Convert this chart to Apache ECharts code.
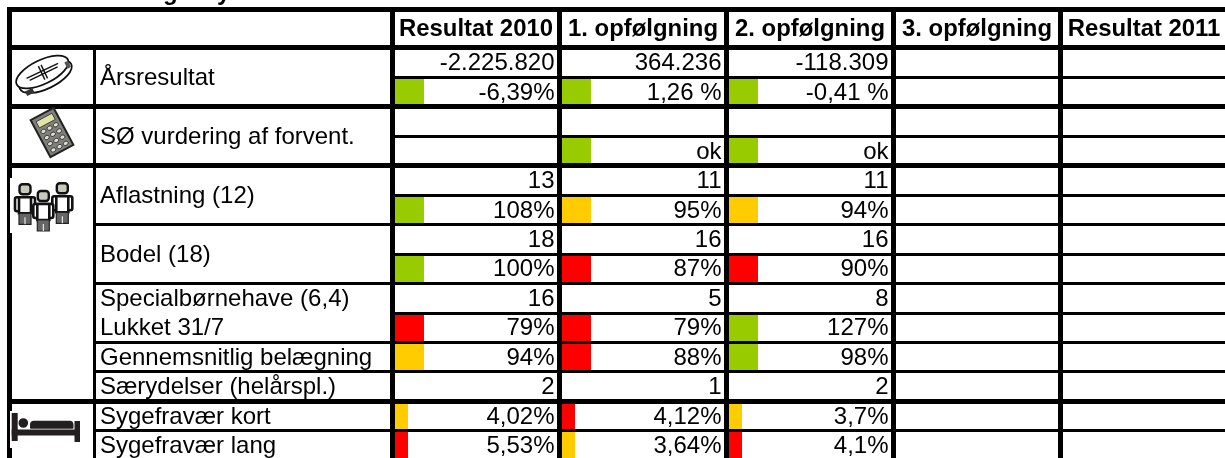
<!DOCTYPE html>
<html>
<head>
<meta charset="utf-8">
<style>
html,body{margin:0;padding:0;background:#fff;overflow:hidden;}
#main{width:1225px;height:458px;}
</style>
<script src="https://cdn.jsdelivr.net/npm/echarts@6/dist/echarts.min.js"></script>
</head>
<body>
<div id="main"></div>
<script>
var columns = ['Resultat 2010','1. opfølgning','2. opfølgning','3. opfølgning','Resultat 2011'];
var rows = ['Årsresultat kr','Årsresultat %','SØ top','SØ ok','Aflastning antal','Aflastning %','Bodel antal','Bodel %',
    'Special antal','Special %','Belægning','Særydelser','Sygefravær kort','Sygefravær lang'];

// labels of the second column, with the number of rows each one spans
var rowLabels = ['Årsresultat','SØ vurdering af forvent.','Aflastning (12)','Bodel (18)','Specialbørnehave (6,4)',
    'Lukket 31/7','Gennemsnitlig belægning','Særydelser (helårspl.)','Sygefravær kort','Sygefravær lang'];
var rowSpans = [2,2,2,2,1,1,1,1,1,1];

var values2010 = ['-2.225.820','-6,39%','','','13','108%','18','100%','16','79%','94%','2','4,02%','5,53%'];
var values1 = ['364.236','1,26 %','','ok','11','95%','16','87%','5','79%','88%','1','4,12%','3,64%'];
var values2 = ['-118.309','-0,41 %','','ok','11','94%','16','90%','8','127%','98%','2','3,7%','4,1%'];
var values3 = ['','','','','','','','','','','','','',''];
var values2011 = ['','','','','','','','','','','','','',''];

// g = green, y = yellow, r = red
var status2010 = ['','g','','','','g','','g','','r','y','','y','r'];
var status1 = ['','g','','g','','y','','r','','r','r','','r','y'];
var status2 = ['','g','','g','','y','','r','','g','g','','y','r'];
var status3 = ['','','','','','','','','','','','','',''];
var status2011 = ['','','','','','','','','','','','','',''];

var allValues = [values2010,values1,values2,values3,values2011];
var allStatus = [status2010,status1,status2,status3,status2011];

var statusColor = {g:'#99cc00',y:'#ffcc00',r:'#ff0000'};
var tableLeft = 9.5, iconRight = 94.5, labelRight = 392.5, pageRight = 1225, pageBottom = 458;
var font = '"Liberation Sans", Arial, sans-serif';

// where each horizontal rule starts: 0 whole table, 1 from the labels, 2 only the value columns
var ruleReach = [0,2,0,2,0,2,1,2,1,2,1,1,0,1];
var ruleStart = [tableLeft,iconRight,labelRight];
var thickRules = [0,2,4,12];
var narrowRows = [12,13];

var cellData = [];
for (var c = 0; c < columns.length; c++) {
    for (var r = 0; r < rows.length; r++) {
        cellData.push([c,r]);
    }
}
var labelData = [];
var startRow = 0;
for (var i = 0; i < rowLabels.length; i++) {
    labelData.push([0,startRow,rowSpans[i],i]);
    startRow += rowSpans[i];
}
var ruleData = rows.map(function(name,idx){ return [0,idx]; });
var columnRuleData = columns.map(function(name,idx){ return [idx,0]; });

function solid(x,y,w,h){
    return {type:'rect',z:5,shape:{x:x,y:y,width:w,height:h},style:{fill:'#000'}};
}
function white(x,y,w,h){
    return {type:'rect',z:6,shape:{x:x,y:y,width:w,height:h},style:{fill:'#fff'}};
}

function coinIcon(){
    var ink = {stroke:'#111',lineWidth:1.4,fill:'none'};
    return {type:'group',x:42.3,y:72,rotation:0.45,z:7,children:[
        {type:'ellipse',z:7,shape:{cx:1,cy:5.5,rx:28.5,ry:12},style:{stroke:'#111',lineWidth:1.8,fill:'#fff'}},
        {type:'ellipse',z:7,shape:{cx:0,cy:0,rx:28.5,ry:12},style:{stroke:'#111',lineWidth:1.8,fill:'#fff'}},
        {type:'line',z:7,shape:{x1:-17,y1:-1,x2:18,y2:-1},style:ink},
        {type:'line',z:7,shape:{x1:-15,y1:2,x2:16,y2:2},style:ink},
        {type:'line',z:7,shape:{x1:-1,y1:-7,x2:-1,y2:8},style:ink},
        {type:'line',z:7,shape:{x1:2,y1:-7,x2:2,y2:8},style:ink},
        {type:'rect',z:7,shape:{x:-24,y:10,width:8,height:5},style:{fill:'#333'}},
        {type:'rect',z:7,shape:{x:24,y:1,width:4,height:7},style:{fill:'#555'}}
    ]};
}

function calculatorIcon(){
    var kids = [
        {type:'rect',z:7,shape:{x:-13,y:-21,width:26,height:42},style:{fill:'#808078',stroke:'#222',lineWidth:2}},
        {type:'rect',z:7,shape:{x:-9,y:-17,width:18,height:7},style:{fill:'#dfe3a6',stroke:'#333',lineWidth:0.8}}
    ];
    for (var a = 0; a < 3; a++) {
        for (var b = 0; b < 4; b++) {
            kids.push({type:'ellipse',z:7,shape:{cx:-7+a*7,cy:-5+b*7,rx:2.6,ry:2},style:{fill:'#ddd',stroke:'#222',lineWidth:0.8}});
        }
    }
    return {type:'group',x:52,y:132.5,rotation:0.49,z:7,children:kids};
}

function person(cx,top){
    var line = {stroke:'#111',lineWidth:2.6,fill:'#fff'};
    return [
        {type:'rect',z:7,shape:{x:cx-5.5,y:top,width:11,height:10,r:3},style:{stroke:'#111',lineWidth:2.4,fill:'#c9c9be'}},
        {type:'rect',z:7,shape:{x:cx-10,y:top+13,width:20,height:14,r:2},style:line},
        {type:'rect',z:7,shape:{x:cx-6,y:top+13,width:12,height:16},style:line},
        {type:'rect',z:7,shape:{x:cx-6,y:top+29,width:12,height:11},style:{fill:'#666',stroke:'#222',lineWidth:1.2}},
        {type:'rect',z:7,shape:{x:cx-0.5,y:top+33,width:1,height:7},style:{fill:'#fff'}}
    ];
}

function bedIcon(){
    var ink = {fill:'#231f20'};
    return {type:'group',z:7,children:[
        {type:'rect',z:7,shape:{x:11.7,y:413,width:6,height:28},style:ink},
        {type:'rect',z:7,shape:{x:74.5,y:421,width:5.5,height:21},style:ink},
        {type:'rect',z:7,shape:{x:11.7,y:429.5,width:68,height:6},style:ink},
        {type:'circle',z:7,shape:{cx:23.3,cy:423,r:4.8},style:ink},
        {type:'rect',z:7,shape:{x:30,y:420.7,width:43.5,height:8,r:[4,4,1,1]},style:ink}
    ]};
}

var chart = echarts.init(document.getElementById('main'));

var option = {
    animation:false,
    backgroundColor:'#fff',
    // the table runs past the page at right and bottom, so no shrinking to fit
    grid:{left:labelRight,top:47.9,width:835,height:412.44,outerBoundsMode:'none',containLabel:false},
    xAxis:{
        type:'category',
        position:'top',
        data:columns,
        axisLine:{show:false},
        axisTick:{show:false},
        splitLine:{show:false},
        axisLabel:{interval:0,margin:6.5,fontSize:23.9,fontWeight:'bold',fontFamily:font,color:'#000'}
    },
    yAxis:{
        type:'category',
        inverse:true,
        data:rows,
        axisLine:{show:false},
        axisTick:{show:false},
        axisLabel:{show:false},
        splitLine:{show:false}
    },
    graphic:[
        solid(7,7,pageRight-7,5),
        solid(7,7,5,pageBottom-7),
        solid(iconRight-1.5,47,3,pageBottom-47),
        solid(labelRight-2.5,7,5,pageBottom-7),
        white(10,178,2,55),
        white(10,411,2,37),
        // title of the sheet is cut off by the top edge, only the descenders show
        {type:'text',z:4,style:{text:'g',x:163,y:5,fill:'#000',fontSize:24,fontWeight:'bold',fontFamily:font,verticalAlign:'bottom'}},
        {type:'text',z:4,style:{text:'y',x:217,y:5,fill:'#000',fontSize:24,fontWeight:'bold',fontFamily:font,verticalAlign:'bottom'}},
        coinIcon(),
        calculatorIcon(),
        {type:'group',z:7,children:person(25,184.3).concat(person(62.3,183.3)).concat(person(43.3,191))},
        bedIcon()
    ],
    series:[
        {
            name:'status',
            type:'custom',
            clip:false,
            z:2,
            data:cellData,
            encode:{x:0,y:1},
            renderItem:function(params,api){
                var col = api.value(0), row = api.value(1);
                var code = allStatus[col][row];
                if (!code) return null;
                var p = api.coord([col,row]), size = api.size([1,1]);
                var w = narrowRows.indexOf(row) >= 0 ? 15.5 : 31.5;
                return {type:'rect',shape:{x:p[0]-size[0]/2,y:p[1]-size[1]/2,width:w,height:size[1]},style:{fill:statusColor[code]}};
            }
        },
        {
            name:'rules',
            type:'custom',
            clip:false,
            z:3,
            data:ruleData,
            encode:{x:0,y:1},
            renderItem:function(params,api){
                var row = api.value(1);
                var p = api.coord([0,row]), size = api.size([1,1]);
                var h = thickRules.indexOf(row) >= 0 ? 5 : 3;
                var y = Math.floor(p[1]-size[1]/2)+0.5;
                var x = ruleStart[ruleReach[row]];
                return {type:'rect',shape:{x:x,y:y-h/2,width:pageRight-x,height:h},style:{fill:'#000'}};
            }
        },
        {
            name:'columnRules',
            type:'custom',
            clip:false,
            z:3,
            data:columnRuleData,
            encode:{x:0,y:1},
            renderItem:function(params,api){
                var col = api.value(0);
                var p = api.coord([col,0]), size = api.size([1,1]);
                var x = p[0]+size[0]/2;
                return {type:'rect',shape:{x:x-2.5,y:7,width:5,height:pageBottom-7},style:{fill:'#000'}};
            }
        },
        {
            name:'values',
            type:'custom',
            clip:false,
            z:4,
            data:cellData,
            encode:{x:0,y:1},
            renderItem:function(params,api){
                var col = api.value(0), row = api.value(1);
                var txt = allValues[col][row];
                if (!txt) return null;
                var p = api.coord([col,row]), size = api.size([1,1]);
                return {type:'text',style:{text:txt,x:p[0]+size[0]/2-5,y:p[1]+1,align:'right',verticalAlign:'middle',
                    fontSize:24,fontFamily:font,fill:'#000'}};
            }
        },
        {
            name:'labels',
            type:'custom',
            clip:false,
            z:4,
            data:labelData,
            encode:{x:0,y:1},
            renderItem:function(params,api){
                var row = api.value(1), span = api.value(2);
                var p = api.coord([0,row]), size = api.size([1,1]);
                var y = p[1]-size[1]/2+size[1]*span/2;
                return {type:'text',style:{text:rowLabels[api.value(3)],x:iconRight+5.5,y:y+1,align:'left',verticalAlign:'middle',
                    fontSize:24,fontFamily:font,fill:'#000'}};
            }
        }
    ]
};

chart.setOption(option);
</script>
</body>
</html>
